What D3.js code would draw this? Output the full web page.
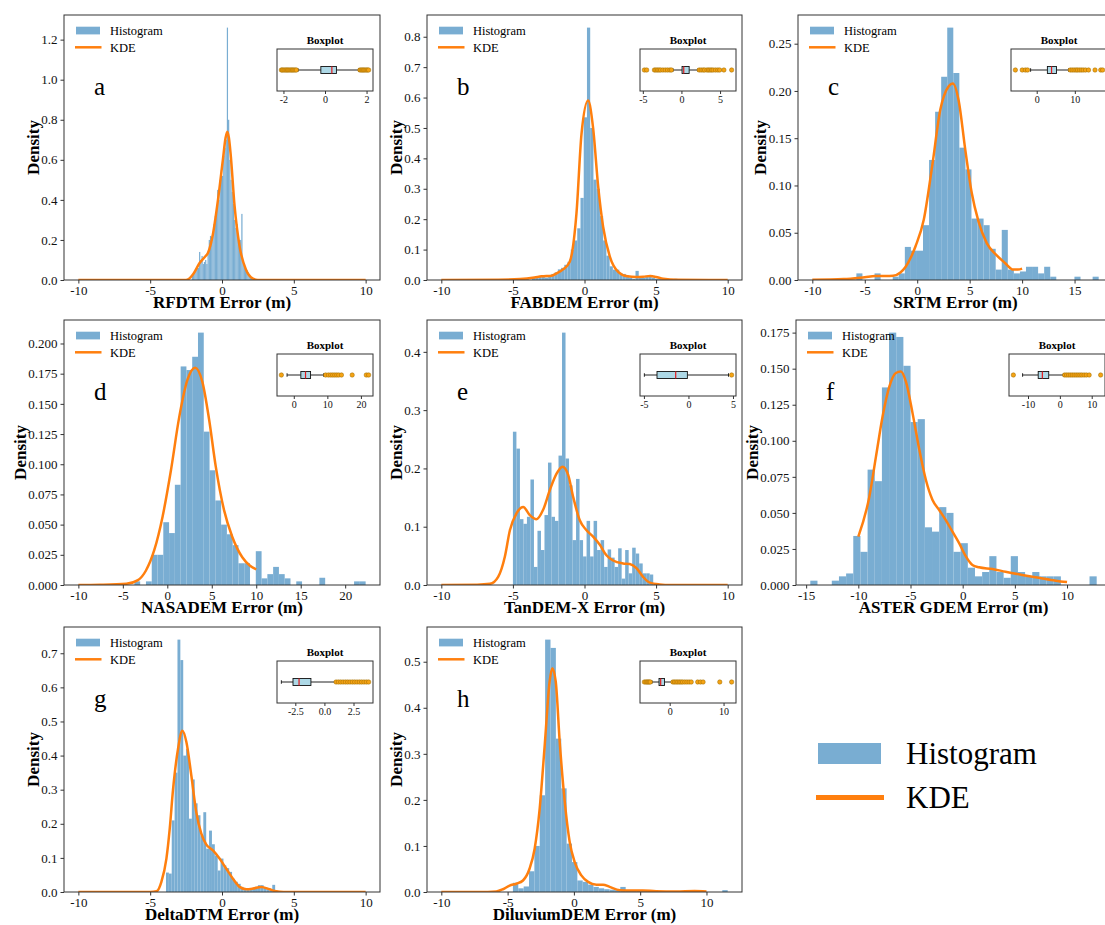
<!DOCTYPE html>
<html>
<head>
<meta charset="utf-8">
<script src="https://cdn.jsdelivr.net/npm/d3@7"></script>
<style>
  body { margin: 0; background: #fff; }
  svg { font-family: "Liberation Serif", "Times New Roman", serif; }
</style>
</head>
<body>
<script>
// ---- data ----
const demNames = ["RFDTM", "FABDEM", "SRTM", "NASADEM", "TanDEM-X", "ASTER GDEM", "DeltaDTM", "DiluviumDEM"];
const panelLetters = ["a", "b", "c", "d", "e", "f", "g", "h"];

// histogram: first bin edge and bin width, then densities
const binStart = [-2.1, -4.8, -5.8, -3.7, -5.0, -14.6, -3.9, -4.6];
const binWidth = [0.084, 0.226, 0.5775, 0.65, 0.245, 0.686, 0.2, 0.405];

const histRFDTM = [0.02,0.03,0.04,0.05,0.06,0.06,0.14,0.10,0.12,0.08,
  0.09,0.10,0.08,0.13,0.20,0.22,0.19,0.23,0.28,0.32,
  0.36,0.45,0.40,0.50,0.55,0.52,0.62,0.66,0.70,1.26,
  0.80,0.60,0.50,0.44,0.38,0.30,0.26,0.28,0.22,0.18,
  0.20,0.33,0.10,0.08,0.06,0.05,0.04,0.03,0.02,0.01];
const histFABDEM = [0.004,0,0.004,0.004,0,0.008,0.008,0.012,0.012,0.008,
  0.016,0.02,0.025,0.035,0.04,0.05,0.06,0.10,0.13,0.17,
  0.27,0.535,0.83,0.50,0.33,0.30,0.21,0.13,0.08,0.045,
  0.034,0.034,0.022,0.02,0.015,0.008,0.004,0.03,0.008,0.008,
  0.012,0.012,0.008,0.004,0.004,0.004,0.004,0,0,0.004];
const histSRTM = [0.007,0,0,0.007,0,0,0.0035,0.007,0.035,0.031,
  0.031,0.058,0.127,0.178,0.215,0.267,0.219,0.14,0.117,0.065,
  0.065,0.058,0.033,0.011,0.053,0.011,0.007,0.009,0.014,0.014,
  0.007,0.014,0.0035,0,0,0,0.0035,0,0,0.0035];
const histNASADEM = [0.003,0,0.003,0.025,0.025,0.052,0.043,0.083,0.181,0.178,
  0.189,0.209,0.127,0.095,0.070,0.05,0.042,0.033,0.018,0.018,
  0,0.028,0.0055,0.009,0.015,0.009,0.0055,0,0.003,0,
  0,0,0.006,0,0,0,0,0,0.003,0.003];
const histTanDEMX = [0.263,0.234,0.113,0.105,0.117,0.181,0.031,0.093,0.06,0.12,
  0.21,0.117,0.11,0.222,0.433,0.217,0.171,0.077,0.182,0.077,
  0.049,0.11,0.049,0.11,0.06,0.077,0.031,0.061,0.047,0.031,
  0.063,0.011,0.06,0.02,0.064,0.054,0.037,0.02,0.02,0.018];
const histASTER = [0.003,0,0,0.003,0.006,0.008,0.034,0.023,0.080,0.072,
  0.137,0.175,0.172,0.152,0.113,0.115,0.040,0.037,0.054,0.050,
  0.023,0.029,0.012,0.006,0.009,0.020,0.009,0.005,0.020,0.009,
  0.006,0.009,0.006,0.006,0.006,0,0,0,0,0.006];
const histDeltaDTM = [0.057,0.054,0.21,0.35,0.74,0.68,0.40,0.42,0.215,0.33,
  0.26,0.225,0.166,0.234,0.127,0.18,0.14,0.107,0.063,0.098,
  0.078,0.07,0.059,0.039,0.03,0.024,0.015,0.01,0.01,0.008,
  0.01,0.015,0.02,0.02,0.012,0.008,0.005,0.021,0.004];
const histDiluvium = [0.02,0.008,0.012,0.045,0.10,0.21,0.548,0.53,0.333,0.225,
  0.105,0.065,0.025,0.022,0.016,0.011,0.008,0.006,0.005,0.004,
  0.011,0.003,0.002,0.003,0.002,0.001,0.001,0,0.001,0,
  0,0,0,0.0015,0,0,0,0,0,0.004];

// KDE curves as [error, density]
const kdeRFDTM = [[-10,0],[-2.6,0],[-2.37,0.003],[-2.0,0.03],[-1.56,0.085],[-1.2,0.115],[-0.98,0.135],
  [-0.63,0.23],[-0.28,0.4],[0.06,0.6],[0.25,0.71],[0.37,0.74],[0.48,0.71],[0.6,0.63],[0.875,0.37],
  [1.22,0.17],[1.68,0.05],[2.15,0.007],[2.5,0],[10,0]];
const kdeFABDEM = [[-10,0],[-6,0.001],[-4.5,0.003],[-3.5,0.008],[-3,0.012],[-2.3,0.014],[-1.95,0.022],
  [-1.5,0.035],[-1.03,0.06],[-0.56,0.22],[-0.21,0.48],[0.25,0.59],[0.6,0.5],[0.95,0.31],[1.3,0.175],
  [1.77,0.077],[2.35,0.027],[3.0,0.012],[3.6,0.01],[4.1,0.011],[4.6,0.013],[5.0,0.01],[5.5,0.004],
  [6.5,0.001],[10,0]];
const kdeSRTM = [[-10,0.0003],[-7,0.001],[-5,0.003],[-4,0.0042],[-3,0.0042],[-2.3,0.0045],[-1.6,0.008],
  [-1.1,0.014],[-0.6,0.024],[-0.15,0.036],[0.63,0.064],[1.42,0.12],[2.2,0.18],[3.0,0.205],[3.4,0.208],
  [3.95,0.19],[4.58,0.138],[5.2,0.092],[5.84,0.062],[6.63,0.039],[7.58,0.026],[8.37,0.018],
  [9.16,0.011],[9.6,0.011],[10,0.012]];
const kdeNASADEM = [[-10,0],[-7.6,0.0002],[-4.6,0.001],[-3.3,0.004],[-2.4,0.012],[-1.46,0.029],
  [-0.52,0.057],[0.41,0.095],[1.34,0.139],[2.27,0.17],[3.13,0.18],[3.95,0.168],[4.7,0.137],
  [5.45,0.098],[6.38,0.062],[7.3,0.04],[8.43,0.023],[9.3,0.016],[10,0.013]];
const kdeTanDEMX = [[-10,0],[-7.5,0.0005],[-6.6,0.002],[-6.03,0.014],[-5.56,0.049],[-5.21,0.094],
  [-4.75,0.123],[-4.28,0.134],[-3.82,0.12],[-3.35,0.113],[-2.89,0.129],[-2.42,0.163],[-1.95,0.191],
  [-1.54,0.203],[-1.14,0.189],[-0.79,0.151],[-0.33,0.111],[0.14,0.094],[0.6,0.083],[1.07,0.069],
  [1.53,0.051],[2.0,0.042],[2.69,0.037],[3.16,0.036],[3.63,0.029],[4.09,0.014],[4.56,0.004],
  [5.25,0.001],[6,0],[10,0]];
const kdeASTER = [[-10,0.0335],[-8.95,0.061],[-8.31,0.089],[-7.67,0.117],[-7.03,0.1375],[-6.4,0.147],
  [-5.92,0.148],[-5.44,0.141],[-4.8,0.119],[-4.16,0.094],[-3.53,0.073],[-2.89,0.059],[-2.25,0.052],
  [-1.62,0.045],[-0.98,0.037],[-0.34,0.029],[0.29,0.02],[0.93,0.0139],[1.57,0.0123],[2.84,0.0111],
  [4.1,0.0092],[5.7,0.007],[7.3,0.005],[8.9,0.003],[10,0.002]];
const kdeDeltaDTM = [[-10,0],[-5,0],[-4.56,0.002],[-4.22,0.03],[-3.87,0.098],[-3.64,0.185],[-3.41,0.30],
  [-3.06,0.42],[-2.76,0.473],[-2.48,0.44],[-2.13,0.34],[-1.79,0.234],[-1.44,0.171],[-1.09,0.139],
  [-0.63,0.122],[-0.17,0.098],[0.3,0.068],[0.76,0.039],[1.22,0.015],[1.69,0.008],[2.15,0.01],
  [2.73,0.015],[3.31,0.008],[3.77,0.002],[4.3,0],[10,0]];
const kdeDiluvium = [[-10,0],[-6.5,0],[-5.85,0.001],[-5.35,0.006],[-4.85,0.014],[-4.34,0.018],
  [-3.84,0.025],[-3.34,0.051],[-2.96,0.094],[-2.58,0.181],[-2.2,0.319],[-1.83,0.457],[-1.63,0.486],
  [-1.37,0.457],[-1.07,0.326],[-0.69,0.196],[-0.32,0.109],[0.06,0.065],[0.56,0.036],[1.07,0.022],
  [1.7,0.016],[2.2,0.016],[2.7,0.011],[3.46,0.004],[4.2,0.003],[5.2,0.0035],[6.2,0.0015],
  [7.7,0.001],[9.1,0.002],[10,0.001]];

// boxplot stats: [whisker low, q1, median, q3, whisker high]
const boxRFDTM = [-1.3, -0.2, 0.33, 0.55, 1.62];
const boxFABDEM = [-1.1, 0.08, 0.3, 1.0, 2.15];
const boxSRTM = [-1.6, 2.8, 3.9, 5.2, 8.4];
const boxNASADEM = [-2.0, 2.1, 3.5, 5.0, 8.9];
const boxTanDEMX = [-4.95, -3.53, -1.43, -0.12, 4.5];
const boxASTER = [-11.7, -6.8, -5.5, -3.5, 1.1];
const boxDeltaDTM = [-3.7, -2.7, -2.18, -1.16, 0.95];
const boxDiluvium = [-3.3, -1.98, -1.67, -0.96, 0.44];

const outRFDTM = [-2.1,-2.05,-1.98,-1.92,-1.86,-1.8,-1.74,-1.68,-1.62,-1.56,-1.5,-1.44,-1.38,
  1.68,1.74,1.8,1.86,1.92,1.98,2.04,2.1];
const outFABDEM = [-4.8,-4.5,-3.5,-3.3,-3.1,-2.9,-2.7,-2.4,-2.1,-1.8,-1.5,-1.3,
  2.3,2.55,2.8,3.0,3.3,3.5,3.7,3.9,4.1,4.4,4.7,4.95,5.5,6.5];
const outSRTM = [-5.6,-3.8,-3.0,-2.4,8.8,9.3,9.8,10.3,10.7,11.2,11.7,12.2,12.8,13.6,15.3,16.8,17.3];
const outNASADEM = [-3.7,9.5,10.3,11.0,11.6,12.2,12.8,13.4,14.2,17.4,21.6,22.3];
const outTanDEMX = [4.85];
const outASTER = [-14.6,1.5,2.1,2.7,3.3,3.9,4.5,5.1,5.7,6.3,6.9,7.6,8.3,9.2,12.8];
const outDeltaDTM = [1.0,1.2,1.4,1.6,1.8,2.0,2.2,2.4,2.6,2.8,3.0,3.2,3.4,3.6,3.8];
const outDiluvium = [-4.7,-4.4,-4.2,-4.0,-3.8,-3.6,0.6,0.9,1.2,1.5,1.8,2.1,2.4,2.8,3.2,3.6,4.0,
  5.2,5.7,6.2,9.3,11.5];

// tick labels
const xTicks = [
  [-10,-5,0,5,10], [-10,-5,0,5,10], [-10,-5,0,5,10,15], [-10,-5,0,5,10,15,20],
  [-10,-5,0,5,10], [-15,-10,-5,0,5,10], [-10,-5,0,5,10], [-10,-5,0,5,10]];
const yTicks = [
  [0,0.2,0.4,0.6,0.8,1.0,1.2],
  [0,0.1,0.2,0.3,0.4,0.5,0.6,0.7,0.8],
  [0,0.05,0.10,0.15,0.20,0.25],
  [0,0.025,0.05,0.075,0.1,0.125,0.15,0.175,0.2],
  [0,0.1,0.2,0.3,0.4],
  [0,0.025,0.05,0.075,0.1,0.125,0.15,0.175],
  [0,0.1,0.2,0.3,0.4,0.5,0.6,0.7],
  [0,0.1,0.2,0.3,0.4,0.5]];
const yDecimals = [1, 1, 2, 3, 1, 3, 1, 1];
const insetTicks = [[-2,0,2], [-5,0,5], [0,10], [0,10,20], [-5,0,5], [-10,0,10], [-2.5,0,2.5], [0,10]];
const insetDecimals = [0, 0, 0, 0, 0, 0, 1, 0];

const hists = [histRFDTM, histFABDEM, histSRTM, histNASADEM, histTanDEMX, histASTER, histDeltaDTM, histDiluvium];
const kdes = [kdeRFDTM, kdeFABDEM, kdeSRTM, kdeNASADEM, kdeTanDEMX, kdeASTER, kdeDeltaDTM, kdeDiluvium];
const boxes = [boxRFDTM, boxFABDEM, boxSRTM, boxNASADEM, boxTanDEMX, boxASTER, boxDeltaDTM, boxDiluvium];
const outliers = [outRFDTM, outFABDEM, outSRTM, outNASADEM, outTanDEMX, outASTER, outDeltaDTM, outDiluvium];

// ---- layout ----
const W = 1105, H = 925;
const frames = [
  {x: 64, y: 15, w: 316, h: 265}, {x: 427, y: 15, w: 315, h: 265}, {x: 798, y: 15, w: 315, h: 265},
  {x: 64, y: 320, w: 316, h: 265}, {x: 427, y: 320, w: 315, h: 265}, {x: 796, y: 320, w: 315, h: 265},
  {x: 64, y: 627, w: 316, h: 265}, {x: 427, y: 627, w: 315, h: 265}];

const histColor = "#79add2";   // tab:blue at alpha 0.6 on white
const kdeColor = "#ff7f0e";
const spine = "#333";

const svg = d3.select("body").append("svg").attr("width", W).attr("height", H);

frames.forEach(function (f, i) {
  const hist = hists[i], kde = kdes[i], s0 = binStart[i], bw = binWidth[i];
  const lo = Math.min(-10, s0), hi = Math.max(10, s0 + bw * hist.length);
  const pad = (hi - lo) * 0.05;
  const x = d3.scaleLinear().domain([lo - pad, hi + pad]).range([0, f.w]);
  const ymax = Math.max(d3.max(hist), d3.max(kde, d => d[1])) * 1.05;
  const y = d3.scaleLinear().domain([0, ymax]).range([f.h, 0]);

  const g = svg.append("g").attr("transform", "translate(" + f.x + "," + f.y + ")");
  g.append("clipPath").attr("id", "clip" + i)
    .append("rect").attr("width", f.w).attr("height", f.h);
  const plot = g.append("g").attr("clip-path", "url(#clip" + i + ")");

  plot.selectAll("rect.bar").data(hist).join("rect")
    .attr("class", "bar")
    .attr("x", (d, j) => x(s0 + j * bw))
    .attr("width", (d, j) => x(s0 + (j + 1) * bw) - x(s0 + j * bw))
    .attr("y", d => y(d))
    .attr("height", d => f.h - y(d))
    .attr("fill", histColor);

  plot.append("path").datum(kde)
    .attr("fill", "none")
    .attr("stroke", kdeColor)
    .attr("stroke-width", 2.5)
    .attr("stroke-linejoin", "round")
    .attr("d", d3.line().x(d => x(d[0])).y(d => y(d[1])).curve(d3.curveMonotoneX));

  // axes
  const xAxis = g.append("g").attr("transform", "translate(0," + f.h + ")")
    .call(d3.axisBottom(x).tickValues(xTicks[i]).tickSize(3.5).tickPadding(2).tickFormat(v => String(v)));
  const yAxis = g.append("g")
    .call(d3.axisLeft(y).tickValues(yTicks[i]).tickSize(3.5).tickPadding(3).tickFormat(v => v.toFixed(yDecimals[i])));
  [xAxis, yAxis].forEach(a => {
    a.attr("font-family", null).attr("font-size", null);
    a.select(".domain").remove();
    a.selectAll("line").attr("stroke", spine);
    a.selectAll("text").attr("fill", "#111").attr("font-size", 13);
  });

  g.append("rect").attr("width", f.w).attr("height", f.h)
    .attr("fill", "none").attr("stroke", spine).attr("stroke-width", 1);

  // labels
  g.append("text").attr("x", f.w / 2).attr("y", f.h + 28)
    .attr("text-anchor", "middle").attr("font-weight", "bold").attr("font-size", 17)
    .text(demNames[i] + " Error (m)");
  const yw = yAxis.node().getBBox().width;
  g.append("text").attr("transform", "translate(" + (-(yw + 8)) + "," + (f.h / 2) + ") rotate(-90)")
    .attr("text-anchor", "middle").attr("dominant-baseline", "central")
    .attr("font-weight", "bold").attr("font-size", 17).text("Density");

  g.append("text").attr("x", 30).attr("y", 80).attr("font-size", 25).text(panelLetters[i]);

  // small legend
  g.append("rect").attr("x", 12).attr("y", 11.7).attr("width", 24).attr("height", 7.7).attr("fill", histColor);
  g.append("text").attr("x", 46).attr("y", 19.8).attr("font-size", 12.5).text("Histogram");
  g.append("line").attr("x1", 11).attr("x2", 37.5).attr("y1", 32.3).attr("y2", 32.3)
    .attr("stroke", kdeColor).attr("stroke-width", 2.5);
  g.append("text").attr("x", 46).attr("y", 36.6).attr("font-size", 12.5).text("KDE");

  // inset boxplot
  const iw = 96, ih = 42;
  const ins = g.append("g").attr("transform", "translate(213,34)");
  const b = boxes[i], outs = outliers[i];
  const bLo = Math.min(b[0], d3.min(outs)), bHi = Math.max(b[4], d3.max(outs));
  const bPad = (bHi - bLo) * 0.05;
  const xi = d3.scaleLinear().domain([bLo - bPad, bHi + bPad]).range([0, iw]);
  const cy = ih / 2, bh = 7;
  ins.append("rect").attr("width", iw).attr("height", ih).attr("fill", "#fff");
  ins.append("line").attr("x1", xi(b[0])).attr("x2", xi(b[1])).attr("y1", cy).attr("y2", cy)
    .attr("stroke", "#222").attr("stroke-width", 1);
  ins.append("line").attr("x1", xi(b[3])).attr("x2", xi(b[4])).attr("y1", cy).attr("y2", cy)
    .attr("stroke", "#222").attr("stroke-width", 1);
  [b[0], b[4]].forEach(v => ins.append("line").attr("x1", xi(v)).attr("x2", xi(v))
    .attr("y1", cy - bh / 4).attr("y2", cy + bh / 4).attr("stroke", "#222").attr("stroke-width", 1));
  ins.append("rect").attr("x", xi(b[1])).attr("y", cy - bh / 2)
    .attr("width", xi(b[3]) - xi(b[1])).attr("height", bh)
    .attr("fill", "#add8e6").attr("stroke", "#111").attr("stroke-width", 0.9);
  ins.append("line").attr("x1", xi(b[2])).attr("x2", xi(b[2]))
    .attr("y1", cy - bh / 2).attr("y2", cy + bh / 2).attr("stroke", "#e41a1c").attr("stroke-width", 1.2);
  ins.selectAll("circle").data(outs).join("circle")
    .attr("cx", d => xi(d)).attr("cy", cy).attr("r", 2.2)
    .attr("fill", "#f5a314").attr("stroke", "#9a6a00").attr("stroke-width", 0.5);
  const ia = ins.append("g").attr("transform", "translate(0," + ih + ")")
    .call(d3.axisBottom(xi).tickValues(insetTicks[i]).tickSize(3).tickPadding(2)
      .tickFormat(v => v.toFixed(insetDecimals[i])));
  ia.attr("font-family", null).attr("font-size", null);
  ia.select(".domain").remove();
  ia.selectAll("line").attr("stroke", spine);
  ia.selectAll("text").attr("fill", "#111").attr("font-size", 10);
  ins.append("rect").attr("width", iw).attr("height", ih)
    .attr("fill", "none").attr("stroke", spine).attr("stroke-width", 1);
  ins.append("text").attr("x", iw / 2).attr("y", -5).attr("text-anchor", "middle")
    .attr("font-weight", "bold").attr("font-size", 11).text("Boxplot");
});

// shared legend
const lg = svg.append("g");
lg.append("rect").attr("x", 818).attr("y", 743).attr("width", 63).attr("height", 21).attr("fill", histColor);
lg.append("text").attr("x", 906).attr("y", 764).attr("font-size", 31).text("Histogram");
lg.append("line").attr("x1", 816).attr("x2", 884).attr("y1", 797.5).attr("y2", 797.5)
  .attr("stroke", kdeColor).attr("stroke-width", 5);
lg.append("text").attr("x", 906).attr("y", 808).attr("font-size", 31).text("KDE");
</script>
</body>
</html>
